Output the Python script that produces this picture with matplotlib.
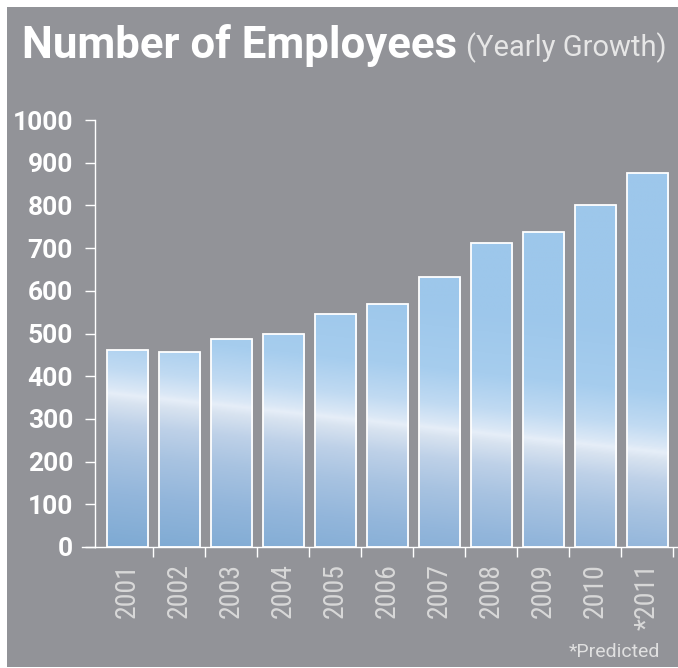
import numpy as np
import matplotlib
matplotlib.use("Agg")
import matplotlib.pyplot as plt
from matplotlib.colors import LinearSegmentedColormap, Normalize
from matplotlib.patches import Rectangle

# employee head count per year (2011 is a forecast)
years = ["2001", "2002", "2003", "2004", "2005", "2006",
         "2007", "2008", "2009", "2010", "*2011"]
employees = [461, 456, 488, 498, 545, 570, 633, 711, 738, 802, 875]
yticks = [0, 100, 200, 300, 400, 500, 600, 700, 800, 900, 1000]

font = "Roboto"
narrow = "Roboto Condensed"
panel = "#929398"
W, H = 678, 668

fig = plt.figure(figsize=(W / 100, H / 100), dpi=100)
fig.patch.set_facecolor("white")
fig.patches.append(Rectangle((7 / W, 1 / H), 1, 660 / H, transform=fig.transFigure,
                             facecolor=panel, edgecolor="none", zorder=-5))

ax = fig.add_axes([95 / W, 121 / H, (W - 95) / W, 427 / H])
ax.patch.set_visible(False)

x = np.arange(len(years))
width = 0.79

# glossy bar fill: a light band running slightly downhill left to right
band0, band_slope = 356, 13.1
stops = [(-360, "#7eaad3"), (-234, "#93b6db"), (-141, "#a8c3e1"), (-70, "#bed1e8"),
         (-19, "#d8e3f0"), (0, "#e6eef8"), (12, "#dbe8f6"), (59, "#c0daf2"),
         (140, "#a6cdee"), (290, "#9dc7eb")]
dmin, dmax = stops[0][0], stops[-1][0]
cmap = LinearSegmentedColormap.from_list(
    "gloss", [((d - dmin) / (dmax - dmin), c) for d, c in stops])
norm = Normalize(dmin, dmax)

bars = ax.bar(x, employees, width=width, facecolor="none", edgecolor="white",
              linewidth=1.3, zorder=3)
for xi, v, b in zip(x, employees, bars):
    xs = np.linspace(xi - width / 2, xi + width / 2, 30)
    ys = np.linspace(0, v, 400)
    X, Y = np.meshgrid(xs, ys)
    d = np.clip(Y - (band0 - band_slope * X), dmin, dmax)
    im = ax.imshow(cmap(norm(d)), extent=[xs[0], xs[-1], 0, v], origin="lower",
                   aspect="auto", interpolation="bilinear", zorder=2)
    im.set_clip_path(b)

ax.set_xlim(-0.625, 10.587)
ax.set_ylim(0, 1000)

for side in ["top", "right"]:
    ax.spines[side].set_visible(False)
for side in ["left", "bottom"]:
    ax.spines[side].set_color("white")
    ax.spines[side].set_linewidth(1.0)
ax.plot([-13 / 583, 0], [0, 0], transform=ax.transAxes, clip_on=False,
        color="white", lw=1.0)

ax.set_yticks(yticks)
ax.set_yticklabels([str(t) for t in yticks], family=font, fontweight="bold",
                   fontsize=19, color="white")
ax.tick_params(axis="y", length=7.2, width=1, color="white", pad=8.6)

# year labels under the bars, short separators between them
ax.set_xticks(x)
ax.set_xticklabels(years, rotation=90, family=narrow, fontsize=20, color="#d8d8d8")
ax.set_xticks(x + 0.5, minor=True)
ax.tick_params(axis="x", which="major", length=0, pad=11.5)
ax.tick_params(axis="x", which="minor", length=7.2, width=1, color="white")

fig.text(22 / W, 1 - 58 / H, "Number of Employees", family=font, fontweight="bold",
         fontsize=31.5, color="white", va="baseline", ha="left")
fig.text(667 / W, 1 - 56 / H, "(Yearly Growth)", family=font, fontsize=21,
         color="#e6e6e6", va="baseline", ha="right")
fig.text(660 / W, 1 - 657 / H, "*Predicted", family=font, fontsize=14,
         color="#e0e0e0", va="baseline", ha="right")

fig.savefig("out.png", dpi=100, facecolor=fig.get_facecolor())
